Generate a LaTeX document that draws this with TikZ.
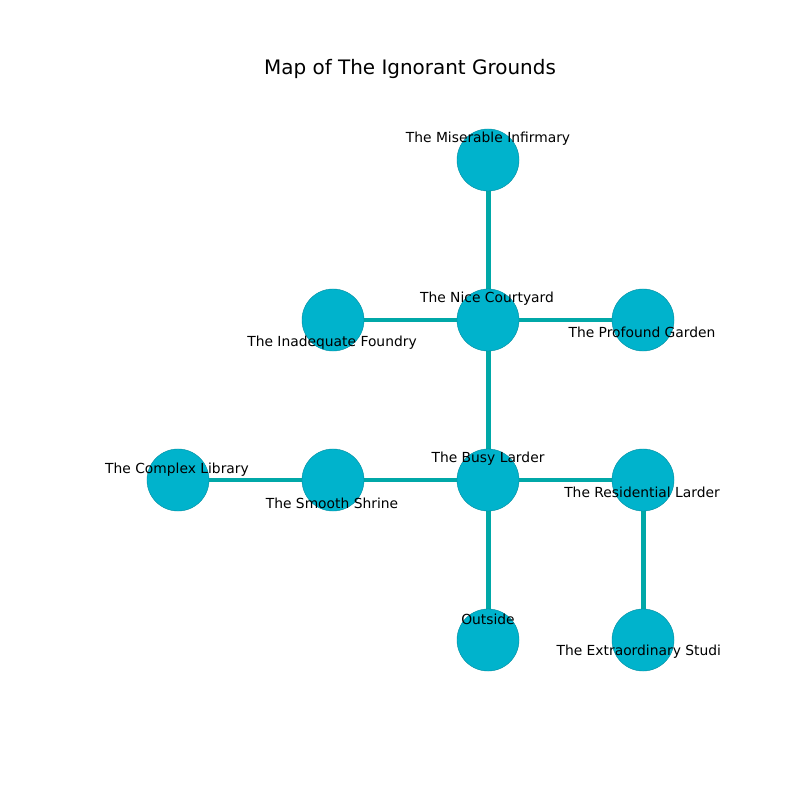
\documentclass[tikz,border=0pt]{standalone}
\usepackage{fontspec}
\setmainfont{DejaVu Sans}
\usetikzlibrary{positioning, backgrounds}

\definecolor{roomfill}{RGB}{0,179,204}
\definecolor{roomline}{RGB}{0,140,160}
\definecolor{pathcol}{RGB}{0,168,168}

\tikzset{
    corridor/.style={line width=3.6pt, draw=pathcol},
    roomlabel/.style={font=\fontsize{10}{12}\selectfont, inner sep=0pt}
}

\begin{document}
\begin{tikzpicture}[x=0.01in, y=-0.01in]
    \useasboundingbox (0, 0) rectangle (800, 800);

    \node (title) at (410, 69) {\fontsize{14.4}{17}\selectfont Map of The Ignorant Grounds};

    \begin{scope}[every node/.style={circle, draw=roomline, line width=0.3pt, fill=roomfill,
                  minimum size=0.62in, inner sep=0pt}]
        \node (Mi) at (488, 160) {};
        \node (Nc) at (488, 320) {};
        \node (If) at (333, 320) {};
        \node (Pg) at (643, 320) {};
        \node (Cl) at (178, 480) {};
        \node (Ss) at (333, 480) {};
        \node (Bl) at (488, 480) {};
        \node (Rl) at (643, 480) {};
        \node (Ou) at (488, 640) {};
        \node (Es) at (643, 640) {};
    \end{scope}

    % connectors go under the rooms
    \begin{pgfonlayer}{background}
        \draw[corridor] (Mi.center) -- (Nc.center);
        \draw[corridor] (If.center) -- (Nc.center);
        \draw[corridor] (Nc.center) -- (Pg.center);
        \draw[corridor] (Nc.center) -- (Bl.center);
        \draw[corridor] (Cl.center) -- (Ss.center);
        \draw[corridor] (Ss.center) -- (Bl.center);
        \draw[corridor] (Bl.center) -- (Rl.center);
        \draw[corridor] (Bl.center) -- (Ou.center);
        \draw[corridor] (Rl.center) -- (Es.center);
    \end{pgfonlayer}

    \begin{scope}[every node/.style={roomlabel}]
        \clip (100, 96) rectangle (720, 712);
        \node (MiL) at (488, 139) {The Miserable Infirmary};
        \node (NcL) at (487, 299) {The Nice Courtyard};
        \node (IfL) at (332, 343) {The Inadequate Foundry};
        \node (PgL) at (642, 332) {The Profound Garden};
        \node (ClL) at (177, 470) {The Complex Library};
        \node (SsL) at (332, 503) {The Smooth Shrine};
        \node (BlL) at (488, 459) {The Busy Larder};
        \node (RlL) at (642, 492) {The Residential Larder};
        \node (OuL) at (488, 619) {Outside};
        \node (EsL) at (643, 652) {The Extraordinary Studio};
    \end{scope}
\end{tikzpicture}
\end{document}
